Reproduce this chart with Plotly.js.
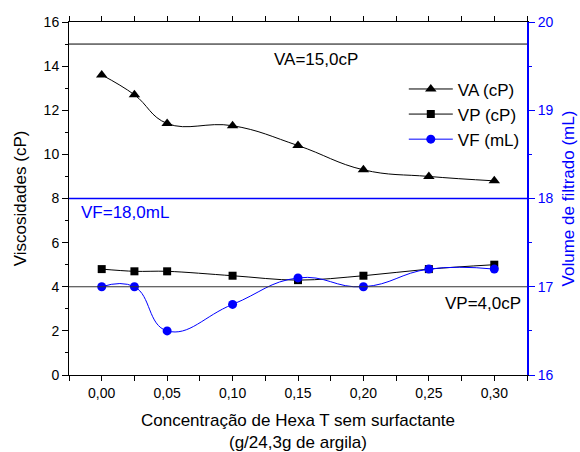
<!DOCTYPE html>
<html>
<head>
<meta charset="utf-8">
<script src="https://cdn.plot.ly/plotly-3.0.1.min.js"></script>
<style>html,body{margin:0;padding:0;background:#fff;}#chart{width:580px;height:452px;}</style>
</head>
<body>
<div id="chart"></div>
<script>
const concentration = [0.00, 0.025, 0.05, 0.10, 0.15, 0.20, 0.25, 0.30];
const vaValues = [13.6, 12.7, 11.4, 11.3, 10.4, 9.3, 9.0, 8.8];
const vpValues = [4.8, 4.7, 4.7, 4.5, 4.3, 4.5, 4.8, 5.0];
const vfValues = [17.0, 17.0, 16.5, 16.8, 17.1, 17.0, 17.2, 17.2];
const seriesNames = ["VA (cP)", "VP (cP)", "VF (mL)"];
const refVA = 15.0, refVP = 4.0, refVF = 18.0;
const refLabels = ["VA=15,0cP", "VP=4,0cP", "VF=18,0mL"];
const xTickVals = [0.00, 0.05, 0.10, 0.15, 0.20, 0.25, 0.30];
const xTickText = ["0,00", "0,05", "0,10", "0,15", "0,20", "0,25", "0,30"];

const FONT = "Liberation Sans, Arial, sans-serif";
const BLUE = "#0000ff";

const traces = [
  {x: concentration, y: vaValues, name: seriesNames[0], type: "scatter", mode: "lines+markers",
   line: {color: "#000", width: 1, shape: "spline", smoothing: 1.2},
   marker: {symbol: "triangle-up", size: 10, color: "#000"}},
  {x: concentration, y: vpValues, name: seriesNames[1], type: "scatter", mode: "lines+markers",
   line: {color: "#000", width: 1, shape: "spline", smoothing: 1},
   marker: {symbol: "square", size: 8, color: "#000"}},
  {x: concentration, y: vfValues, name: seriesNames[2], type: "scatter", mode: "lines+markers", yaxis: "y2",
   line: {color: BLUE, width: 1, shape: "spline", smoothing: 1.3},
   marker: {symbol: "circle", size: 9, color: BLUE}}
];

const layout = {
  width: 580, height: 452,
  margin: {l: 69, r: 53, t: 22, b: 77},
  paper_bgcolor: "#fff", plot_bgcolor: "#fff",
  font: {family: FONT, size: 14, color: "#000"},
  separators: ",.",
  showlegend: true,
  legend: {x: 0.731, y: 0.86, xanchor: "left", yanchor: "top", bgcolor: "rgba(0,0,0,0)",
           font: {family: FONT, size: 17, color: "#000"}, tracegroupgap: 0, itemwidth: 44},
  xaxis: {range: [-0.025, 0.325], showgrid: false, zeroline: false, showline: true, mirror: "allticks",
          linecolor: "#000", linewidth: 1,
          ticks: "outside", ticklen: 5, tickcolor: "#000", tickmode: "array", tickvals: xTickVals, ticktext: xTickText,
          minor: {dtick: 0.025, tick0: 0, ticks: "outside", ticklen: 4, tickcolor: "#000"},
          tickfont: {family: FONT, size: 14},
          title: {text: "Concentração de Hexa T sem surfactante<br>(g/24,3g de argila)", font: {family: FONT, size: 17}, standoff: 19}},
  yaxis: {range: [0, 16], showgrid: false, zeroline: false, showline: true, linecolor: "#000", linewidth: 1,
          ticks: "outside", ticklen: 6, tickcolor: "#000", tickmode: "linear", tick0: 0, dtick: 2,
          minor: {dtick: 1, ticks: "outside", ticklen: 3, tickcolor: "#000"},
          tickfont: {family: FONT, size: 14},
          title: {text: "Viscosidades (cP)", font: {family: FONT, size: 17}, standoff: 12}},
  yaxis2: {overlaying: "y", side: "right", anchor: "x", range: [16, 20], showgrid: false, zeroline: false,
           showline: true, linecolor: BLUE, linewidth: 2, ticks: "outside", ticklen: 6, tickcolor: BLUE,
           tickmode: "linear", tick0: 16, dtick: 1,
           minor: {dtick: 0.5, ticks: "outside", ticklen: 3, tickcolor: BLUE},
           tickfont: {family: FONT, size: 14, color: BLUE},
           title: {text: "Volume de filtrado (mL)", font: {family: FONT, size: 17, color: BLUE}, standoff: 10}},
  shapes: [
    {type: "line", xref: "paper", x0: 0, x1: 1, yref: "y", y0: refVA, y1: refVA, line: {color: "#000", width: 1}},
    {type: "line", xref: "paper", x0: 0, x1: 1, yref: "y", y0: refVP, y1: refVP, line: {color: "#333", width: 1}},
    {type: "line", xref: "paper", x0: 0, x1: 1, yref: "y2", y0: refVF, y1: refVF, line: {color: BLUE, width: 1.5}}
  ],
  annotations: [
    {text: refLabels[0], xref: "paper", x: 0.539, yref: "y", y: 14.28, showarrow: false, xanchor: "center",
     font: {family: FONT, size: 17, color: "#000"}},
    {text: refLabels[1], xref: "paper", x: 0.992, yref: "y", y: 3.26, showarrow: false, xanchor: "right",
     font: {family: FONT, size: 17, color: "#000"}},
    {text: refLabels[2], xref: "paper", x: 0.022, yref: "y2", y: 17.84, showarrow: false, xanchor: "left",
     font: {family: FONT, size: 17, color: BLUE}}
  ]
};

Plotly.newPlot("chart", traces, layout, {displayModeBar: false, staticPlot: true});
</script>
</body>
</html>
